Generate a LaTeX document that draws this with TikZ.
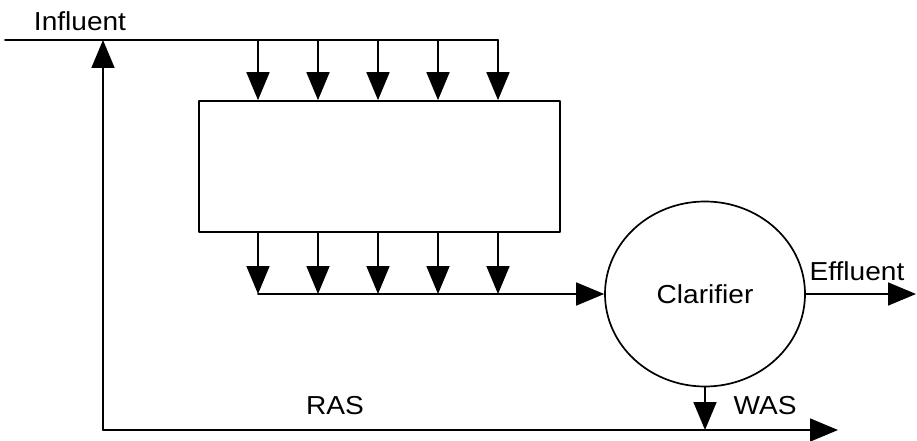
\documentclass[tikz,border=0pt]{standalone}
\usepackage{fontspec}
\setmainfont{Liberation Sans}[FakeStretch=1.08]
\usetikzlibrary{arrows.meta,shapes.geometric}
\begin{document}
\begin{tikzpicture}[line cap=round,line join=round,>={Triangle[length=28pt,width=23pt]},x=1pt,y=1pt,line width=1.7pt,
	lbl/.style={font=\fontsize{26}{30}\selectfont}]
		\useasboundingbox (0,0) rectangle (917,440);
		\node[draw,minimum width=361pt,minimum height=131pt] (tank) at (379.5,273.5) {};
		\node[draw,ellipse,minimum width=200pt,minimum height=185pt,inner sep=0pt,lbl] (clarifier) at (705,146) {Clarifier};
		\coordinate (inA) at (5,400);
		\coordinate (inB) at (498,400);
		\coordinate (rasA) at (103,10);
		\coordinate (rasB) at (838,10);
		\coordinate (eff) at (916,146);
		\draw (inA) -- (inB);
		\foreach \x [count=\i] in {258,318,378,438,498} {
		\coordinate (top\i) at (\x,400);
		\coordinate (bot\i) at (\x,146);
		\draw[->] (top\i) -- (top\i |- tank.north);
		\draw[->] (bot\i |- tank.south) -- (bot\i);
		}
		\draw[->] (bot1) -- (clarifier.west);
		\draw[->] (clarifier.east) -- (eff);
		\coordinate (wasEnd) at (clarifier.south |- rasA);
		\draw[->] (clarifier.south) -- (wasEnd);
		\draw[->] (rasA) -- (rasB);
		\draw[->] (rasA) -- (rasA |- inA);
		\node[lbl] (influent) at (80,419) {Influent};
		\node[lbl] (effluent) at (857,169) {Effluent};
		\node[lbl] (ras) at (335,34) {RAS};
		\node[lbl] (was) at (765,34) {WAS};
		\end{tikzpicture}
\end{document}
